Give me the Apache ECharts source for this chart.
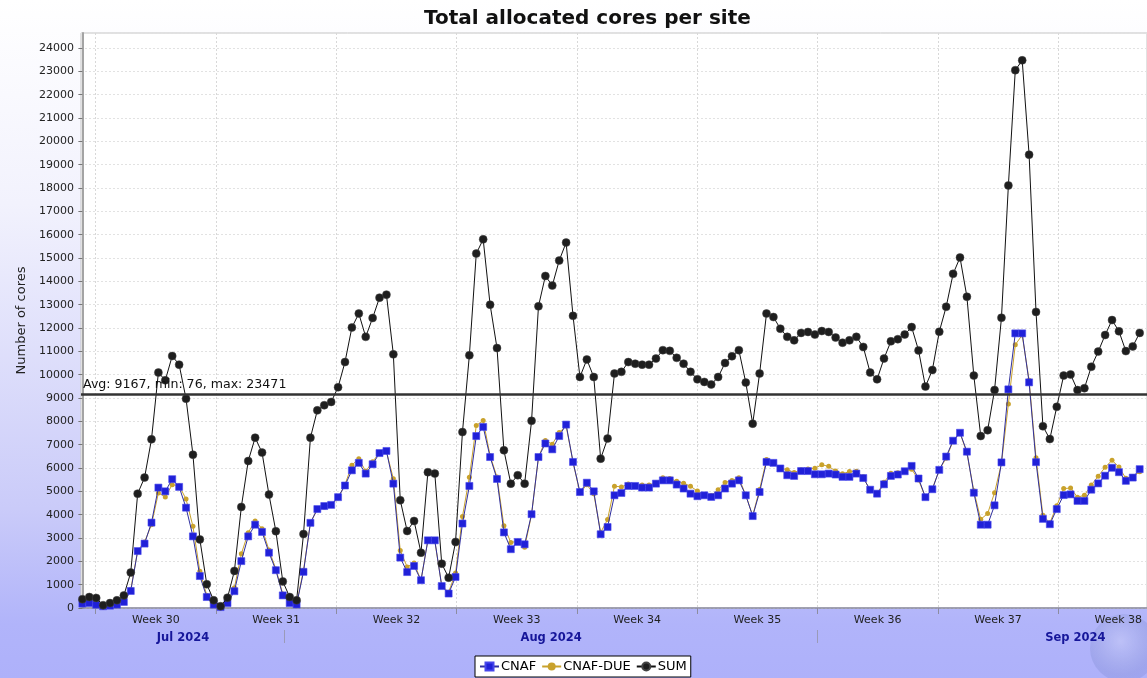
<!DOCTYPE html>
<html><head><meta charset="utf-8">
<script src="https://cdn.jsdelivr.net/npm/echarts@6/dist/echarts.min.js"></script>
<style>
html,body{margin:0;padding:0;}
#c{width:1147px;height:678px;background:linear-gradient(to bottom,#ffffff 0%,#f2f2fd 30%,#cacbf9 75%,#b1b4fa 92%,#aeb1fa 100%);}
</style></head><body><div id="c"></div>
<script>
// ---- data (one point every ~9.6 h, 21 Jul - 21 Sep 2024) ----
const CNAF = [190,210,140,75,100,145,260,730,2440,2760,3660,5160,5000,5520,5190,4300,3070,1370,470,145,40,210,720,2010,3070,3570,3260,2370,1620,540,
210,150,1550,3650,4240,4370,4420,4750,5250,5900,6220,5760,6160,6640,6730,5330,2160,1540,1800,1190,2900,2900,940,620,1330,3620,5230,7370,7760,6470,
5530,3240,2520,2830,2730,4020,6470,7050,6800,7370,7860,6260,4970,5370,5000,3160,3470,4830,4930,5230,5230,5160,5160,5330,5470,5470,5290,5120,4900,4790,
4830,4760,4830,5120,5330,5470,4830,3940,4970,6260,6220,5980,5690,5660,5870,5870,5730,5730,5760,5720,5620,5620,5760,5570,5070,4900,5300,5660,5720,5860,
6090,5550,4750,5090,5920,6490,7170,7510,6700,4940,3570,3570,4400,6240,9370,11770,11770,9670,6250,3820,3590,4240,4840,4870,4590,4590,5070,5340,5670,6010,
5820,5450,5590,5950];
const CNAF_DUE = [190,260,290,45,110,185,280,790,2460,2830,3570,4930,4760,5280,5240,4670,3500,1570,550,185,36,230,870,2320,3230,3730,3400,2490,1670,600,
260,180,1620,3650,4230,4320,4410,4710,5290,6120,6400,5860,6270,6660,6700,5540,2460,1760,1930,1180,2920,2860,960,680,1500,3920,5600,7820,8040,6530,
5610,3520,2810,2860,2600,4000,6460,7180,7020,7520,7800,6260,4930,5280,4900,3240,3790,5220,5190,5310,5240,5270,5270,5360,5580,5550,5430,5350,5220,5010,
4860,4820,5070,5380,5460,5580,4830,3960,5080,6360,6250,5990,5930,5810,5920,5960,5990,6140,6070,5870,5750,5850,5860,5620,5020,4900,5390,5770,5800,5860,
5950,5490,4740,5110,5920,6420,7150,7510,6640,5020,3800,4050,4940,6200,8740,11280,11700,9760,6440,3970,3650,4380,5120,5140,4750,4830,5270,5650,6030,6330,
6040,5560,5620,5840];
const SUM = [380,470,430,120,210,330,540,1520,4900,5590,7230,10090,9760,10800,10430,8970,6570,2940,1020,330,76,440,1590,4330,6300,7300,6660,4860,3290,1140,
470,330,3170,7300,8470,8690,8830,9460,10540,12020,12620,11620,12430,13300,13430,10870,4620,3300,3730,2370,5820,5760,1900,1300,2830,7540,10830,15190,15800,13000,
11140,6760,5330,5690,5330,8020,12930,14230,13820,14890,15660,12520,9900,10650,9900,6400,7260,10050,10120,10540,10470,10430,10430,10690,11050,11020,10720,10470,10120,9800,
9690,9580,9900,10500,10790,11050,9660,7900,10050,12620,12470,11970,11620,11470,11790,11830,11720,11870,11830,11590,11370,11470,11620,11190,10090,9800,10690,11430,11520,11720,
12040,11040,9490,10200,11840,12910,14320,15020,13340,9960,7370,7620,9340,12440,18110,23050,23471,19430,12690,7790,7240,8620,9960,10010,9340,9420,10340,10990,11700,12340,
11860,11010,11210,11790];
const SERIES_NAMES = ['CNAF','CNAF-DUE','SUM'];
const WEEK_LABELS = ['Week 30','Week 31','Week 32','Week 33','Week 34','Week 35','Week 36','Week 37','Week 38'];
const MONTH_LABELS = ['Jul 2024','Aug 2024','Sep 2024'];
const AVG = 9167, MIN_V = 76, MAX_V = 23471;
const TITLE = 'Total allocated cores per site';
const Y_NAME = 'Number of cores';

// ---- axis geometry (days counted from Sun 21 Jul 2024) ----
const DAY_MIN = -0.855, DAY_MAX = 61.17;
const WEEK_TICKS = WEEK_LABELS.map((_, k) => 7 * k);
const WEEK_LABEL_POS = WEEK_LABELS.map((_, k) => 7 * k + 3.5);
const MONTH_TICKS = [11, 42];
const MONTH_LABEL_POS = [5.08, 26.5, 57.0];

const FONT = 'DejaVu Sans';
const chart = echarts.init(document.getElementById('c'), null, {renderer: 'canvas'});
const pairs = arr => arr.map((v, i) => [i, v]);

chart.setOption({
  animation: false,
  backgroundColor: 'transparent',
  textStyle: {fontFamily: FONT},
  graphic: [{
    type: 'circle', shape: {cx: 1124, cy: 648, r: 34}, z: -10, silent: true,
    style: {
      fill: new echarts.graphic.RadialGradient(0.45, 0.4, 0.7, [
        {offset: 0, color: 'rgba(200,204,245,0.55)'},
        {offset: 0.7, color: 'rgba(140,150,220,0.45)'},
        {offset: 1, color: 'rgba(120,130,210,0.2)'}
      ])
    }
  }],
  title: {text: TITLE, left: 419, top: 4,
    textStyle: {fontFamily: FONT, fontSize: 20, fontWeight: 'bold', color: '#111'}},
  legend: {
    data: SERIES_NAMES, left: 475, bottom: 1, itemWidth: 19, itemHeight: 10, itemGap: 5,
    padding: [4, 4], backgroundColor: '#fff', borderColor: '#000', borderWidth: 1, borderRadius: 0,
    textStyle: {fontFamily: FONT, fontSize: 13, color: '#000', padding: [0, 0, 0, -3]}
  },
  grid: {left: 81, top: 33, right: 0, bottom: 70, show: true, backgroundColor: '#fff',
    borderColor: '#c4c4c4', borderWidth: 1},
  xAxis: [
    {type: 'value', min: -0.2, max: 154.06, show: false},
    {type: 'value', min: DAY_MIN, max: DAY_MAX, position: 'bottom',
      axisLine: {show: true, lineStyle: {color: '#8c8ca0', width: 1.5}},
      axisTick: {show: true, customValues: WEEK_TICKS, length: 6, lineStyle: {color: '#8c8ca0'}},
      axisLabel: {customValues: WEEK_LABEL_POS, formatter: v => WEEK_LABELS[Math.floor(v / 7)],
        color: '#222', fontSize: 11, fontFamily: FONT, margin: 7},
      splitLine: {show: true, lineStyle: {type: [2, 2], color: '#d8d8d8'}}},
    {type: 'value', min: DAY_MIN, max: DAY_MAX, position: 'bottom', offset: 22,
      axisLine: {show: false},
      axisTick: {show: true, customValues: MONTH_TICKS, length: 13, lineStyle: {color: '#9a9ab8'}},
      axisLabel: {customValues: MONTH_LABEL_POS,
        formatter: v => MONTH_LABELS[v < MONTH_TICKS[0] ? 0 : (v < MONTH_TICKS[1] ? 1 : 2)],
        color: '#16169a', fontSize: 11.5, fontWeight: 'bold', fontFamily: FONT, margin: 2},
      splitLine: {show: false}}
  ],
  yAxis: {type: 'value', min: 0, max: 24643, interval: 1000,
    name: Y_NAME, nameLocation: 'middle', nameGap: 40,
    nameTextStyle: {fontFamily: FONT, fontSize: 13, color: '#222'},
    axisLine: {show: true, lineStyle: {color: '#a4a4a4', width: 2}},
    axisTick: {show: true, length: 4, lineStyle: {color: '#777'}},
    axisLabel: {showMaxLabel: false, formatter: v => String(v), color: '#222', fontSize: 11,
      fontFamily: FONT, margin: 7},
    splitLine: {show: true, lineStyle: {type: [2, 2], color: '#e2e2e2'}}},
  series: [
    {name: 'CNAF', type: 'line', data: pairs(CNAF), xAxisIndex: 0, z: 3,
      symbol: 'rect', symbolSize: 7, showAllSymbol: true,
      itemStyle: {color: '#2020d8', borderColor: '#4646ec', borderWidth: 0.6},
      lineStyle: {color: '#2e2e9e', width: 1}},
    {name: 'CNAF-DUE', type: 'line', data: pairs(CNAF_DUE), xAxisIndex: 0, z: 2,
      symbol: 'circle', symbolSize: 5, showAllSymbol: true,
      itemStyle: {color: '#c9a22c'}, lineStyle: {color: '#c9a22c', width: 1}},
    {name: 'SUM', type: 'line', data: pairs(SUM), xAxisIndex: 0, z: 4,
      symbol: 'circle', symbolSize: 8, showAllSymbol: true,
      itemStyle: {color: '#1e1e1e', borderColor: '#444', borderWidth: 0.5},
      lineStyle: {color: '#111', width: 1},
      markLine: {silent: true, symbol: ['none', 'none'],
        lineStyle: {color: '#333', width: 2.5, type: 'solid'},
        label: {show: true, position: 'insideStartTop', distance: [2, 3],
          formatter: 'Avg: ' + AVG + ', min: ' + MIN_V + ', max: ' + MAX_V,
          color: '#111', fontSize: 12.6, fontFamily: FONT},
        data: [{yAxis: AVG}]}}
  ]
});
</script></body></html>
